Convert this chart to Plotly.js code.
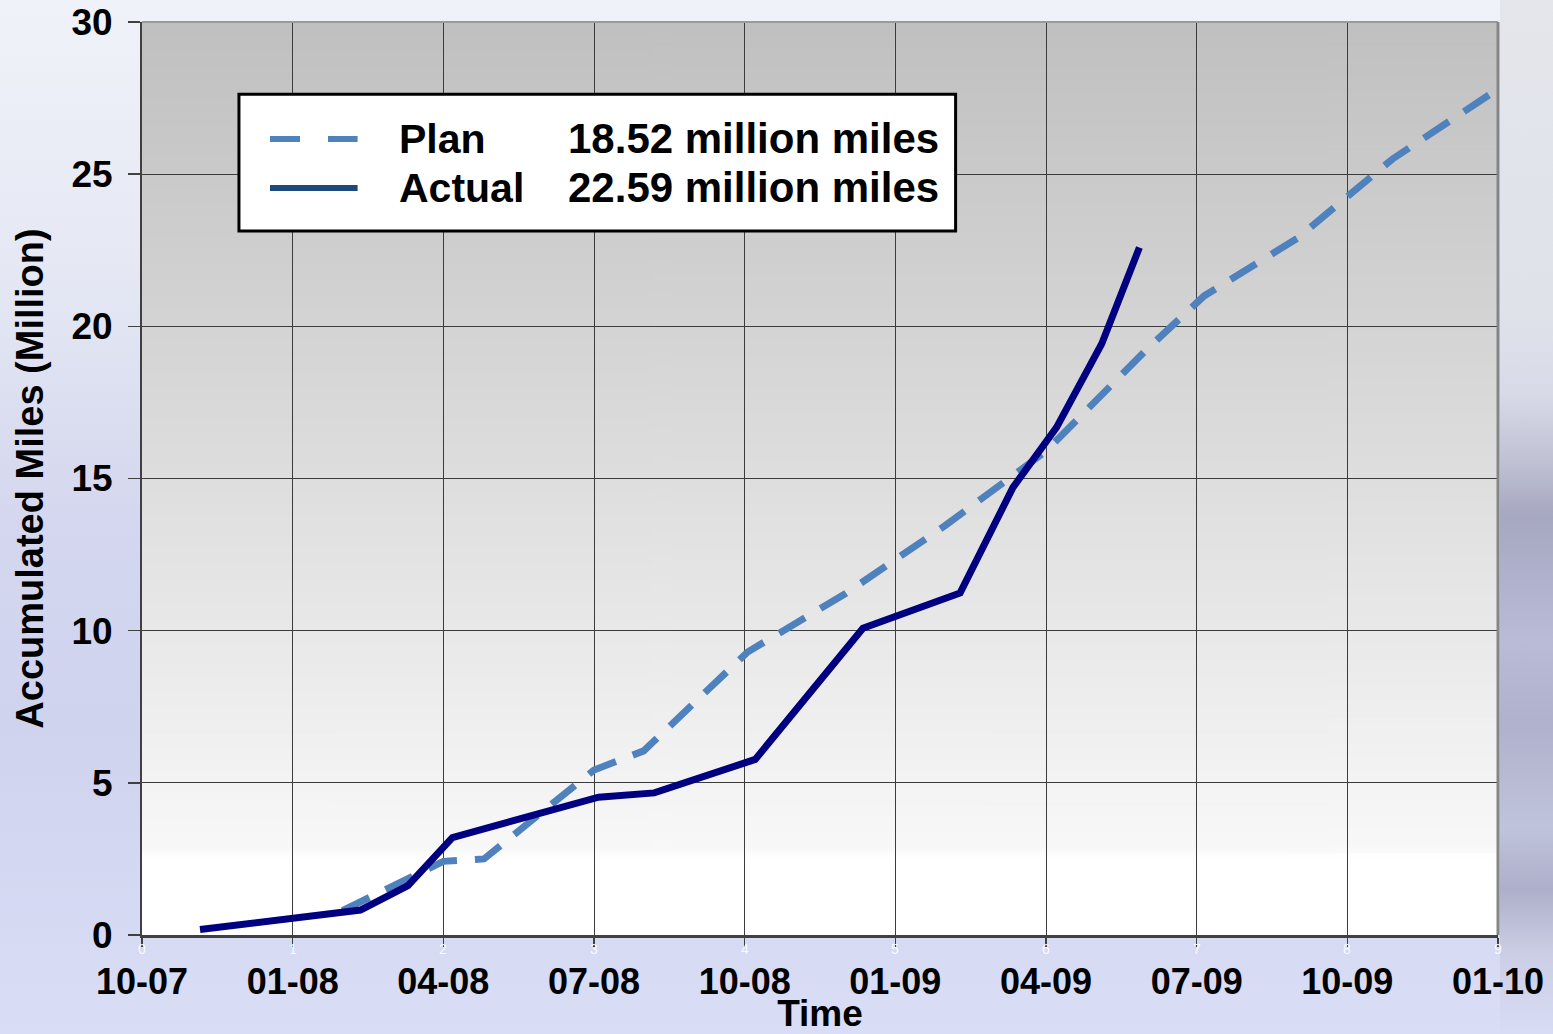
<!DOCTYPE html>
<html>
<head>
<meta charset="utf-8">
<script src="https://cdn.plot.ly/plotly-3.0.1.min.js"></script>
<style>
  html, body { margin: 0; padding: 0; width: 1553px; height: 1034px; overflow: hidden; }
  body {
    background: linear-gradient(to bottom, #eff2f8 0%, #e6e9f4 25%, #d4d7ee 50%, #cfd3ee 70%, #d9ddf5 100%);
    position: relative;
  }
  #strip {
    position: absolute; left: 1500px; top: 0; width: 53px; height: 1034px;
    background: linear-gradient(to bottom, #e4e6ec 0%, #e0e2ea 30%, #d8dae8 38%, #c2c4d6 44%, #a6a7c0 50%, #b0b1cc 56%, #babbd6 62%, #b0b1cc 70%, #c0c3dc 80%, #aeafca 86%, #cacde4 92%, #d8dcf4 100%);
  }
  #chart { position: absolute; left: 0; top: 0; width: 1553px; height: 1034px; }
</style>
</head>
<body>
<div id="strip"></div>
<div id="chart"></div>
<script>
// ---- data ----
const tickVals = [0, 1, 2, 3, 4, 5, 6, 7, 8, 9];
const tickLabels = ["10-07", "01-08", "04-08", "07-08", "10-08", "01-09", "04-09", "07-09", "10-09", "01-10"];
const tickIndex = ["0", "1", "2", "3", "4", "5", "6", "7", "8", "9"];

const planX = [1.33, 1.77, 2.0, 2.27, 3.0, 3.33, 4.02, 4.67, 5.33, 6.0, 6.67, 7.05, 7.67, 8.3, 9.0];
const planY = [0.8, 1.85, 2.42, 2.5, 5.42, 6.05, 9.3, 11.22, 13.45, 15.9, 19.25, 21.0, 22.9, 25.5, 27.8];

const actualX = [0.385, 1.45, 1.765, 2.06, 3.03, 3.40, 4.07, 4.785, 5.43, 5.78, 6.07, 6.37, 6.62];
const actualY = [0.18, 0.82, 1.62, 3.2, 4.53, 4.67, 5.77, 10.08, 11.24, 14.7, 16.68, 19.43, 22.59];

const legendNames = ["Plan", "Actual"];
const legendTotals = ["18.52 million miles", "22.59 million miles"];

// ---- plot-area gradient image (built locally on a canvas) ----
function gradientImage() {
  const c = document.createElement('canvas');
  c.width = 4; c.height = 400;
  const g = c.getContext('2d');
  const gr = g.createLinearGradient(0, 0, 0, 400);
  gr.addColorStop(0, '#c0c0c0');
  gr.addColorStop(0.5, '#dedede');
  gr.addColorStop(0.905, '#f8f8f8');
  gr.addColorStop(0.915, '#ffffff');
  gr.addColorStop(1, '#ffffff');
  g.fillStyle = gr;
  g.fillRect(0, 0, 4, 400);
  return c.toDataURL('image/png');
}

const FONT = "Liberation Sans, Arial, sans-serif";
const PLAN_COLOR = "#4f81bd";
const ACTUAL_COLOR = "#000080";

const traces = [
  {
    x: planX, y: planY, name: legendNames[0], type: "scatter", mode: "lines",
    line: { color: PLAN_COLOR, width: 7, dash: "30px,18px" }, hoverinfo: "x+y"
  },
  {
    x: actualX, y: actualY, name: legendNames[1], type: "scatter", mode: "lines",
    line: { color: ACTUAL_COLOR, width: 7 }, hoverinfo: "x+y"
  }
];

// legend box geometry (paper coords)
const lx0 = 0.0715, lx1 = 0.600, ly0 = 0.771, ly1 = 0.921;
const rowY = [0.8719, 0.8182];
const sampleColors = [PLAN_COLOR, "#1f497d"];
const sampleDash = ["30px,28px", "solid"];

const shapes = [
  { type: "rect", xref: "paper", yref: "paper", x0: lx0, x1: lx1, y0: ly0, y1: ly1,
    fillcolor: "#ffffff", line: { color: "#000000", width: 3 }, layer: "above" },
  // top & right frame lines
  { type: "line", xref: "paper", yref: "paper", x0: 0, x1: 1, y0: 1, y1: 1,
    line: { color: "#9a9a9a", width: 2 }, layer: "above" },
  { type: "line", xref: "paper", yref: "paper", x0: 1, x1: 1, y0: 0, y1: 1,
    line: { color: "#858585", width: 3 }, layer: "above" }
];
for (let i = 0; i < 2; i++) {
  shapes.push({ type: "line", xref: "paper", yref: "paper",
    x0: 0.0944, x1: 0.1590, y0: rowY[i], y1: rowY[i],
    line: { color: sampleColors[i], width: 6, dash: sampleDash[i] }, layer: "above" });
}

const annotations = [];
for (let i = 0; i < 2; i++) {
  annotations.push({ xref: "paper", yref: "paper", x: 0.1884, y: rowY[i], xanchor: "left", yanchor: "middle",
    text: "<b>" + legendNames[i] + "</b>", showarrow: false, font: { family: FONT, size: 41, color: "#000" } });
  annotations.push({ xref: "paper", yref: "paper", x: 0.3130, y: rowY[i], xanchor: "left", yanchor: "middle",
    text: "<b>" + legendTotals[i] + "</b>", showarrow: false, font: { family: FONT, size: 42, color: "#000" } });
}
for (let i = 0; i < tickVals.length; i++) {
  annotations.push({ xref: "x", yref: "paper", x: tickVals[i], y: 0, yshift: -14, xanchor: "center", yanchor: "middle",
    text: tickIndex[i], showarrow: false, font: { family: FONT, size: 14, color: "rgba(255,255,255,0.9)" } });
}

const layout = {
  width: 1553, height: 1034,
  margin: { l: 142, r: 55, t: 22, b: 99 },
  paper_bgcolor: "rgba(0,0,0,0)",
  plot_bgcolor: "rgba(0,0,0,0)",
  showlegend: false,
  font: { family: FONT, color: "#000" },
  images: [{ source: gradientImage(), xref: "paper", yref: "paper", x: 0, y: 1, sizex: 1, sizey: 1,
    xanchor: "left", yanchor: "top", sizing: "stretch", layer: "below" }],
  xaxis: {
    range: [0, 9], tickmode: "array", tickvals: tickVals, ticktext: tickLabels,
    showgrid: true, gridcolor: "#3c3c3c", gridwidth: 1,
    showline: true, linecolor: "#404040", linewidth: 2.5,
    ticks: "outside", ticklen: 9, tickcolor: "#404040", tickwidth: 1.5,
    tickfont: { family: FONT, size: 36, color: "#000", weight: "bold" },
    ticklabelstandoff: 4,
    zeroline: false, fixedrange: true,
    title: { text: "<b>Time</b>", font: { family: FONT, size: 37, color: "#000" }, standoff: 11 },
    automargin: false
  },
  yaxis: {
    range: [0, 30], dtick: 5, tick0: 0,
    showgrid: true, gridcolor: "#3c3c3c", gridwidth: 1,
    showline: true, linecolor: "#404040", linewidth: 2,
    ticks: "outside", ticklen: 12, tickcolor: "#404040", tickwidth: 1.5,
    tickfont: { family: FONT, size: 37, color: "#000", weight: "bold" },
    ticklabelstandoff: 8,
    zeroline: false, fixedrange: true,
    title: { text: "<b>Accumulated Miles (Million)</b>", font: { family: FONT, size: 38, color: "#000" }, standoff: 16 },
    automargin: false
  },
  shapes: shapes,
  annotations: annotations
};

Plotly.newPlot("chart", traces, layout, { displayModeBar: false, staticPlot: true });
</script>
</body>
</html>
